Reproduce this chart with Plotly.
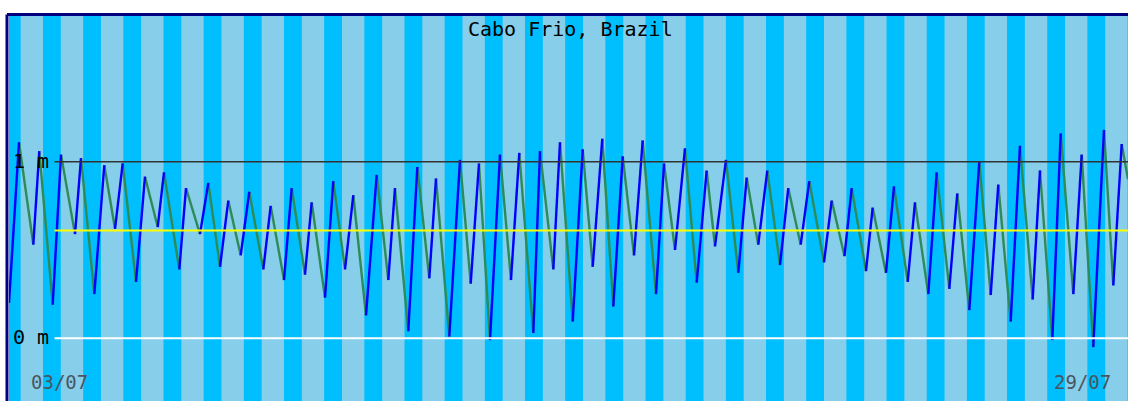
import pandas as pd
import plotly.graph_objects as go

YEAR = 2012
STATION = "Cabo Frio, Brazil"

# Predicted turning points of the tide (local time) and heights in metres
tide_times = [
    "02/07 10:19", "02/07 16:17",
    "03/07 00:50", "03/07 04:25", "03/07 12:26", "03/07 17:23",
    "04/07 01:45", "04/07 05:20", "04/07 13:17", "04/07 19:15",
    "05/07 01:39", "05/07 06:15", "05/07 14:12", "05/07 19:34",
    "06/07 03:10", "06/07 06:55", "06/07 16:04", "06/07 20:04",
    "07/07 04:26", "07/07 09:23", "07/07 16:23", "07/07 21:20",
    "08/07 04:45", "08/07 09:53", "08/07 18:15", "08/07 22:40",
    "09/07 06:37", "09/07 11:13", "09/07 19:10", "09/07 23:10",
    "10/07 07:07", "10/07 12:04", "10/07 19:04",
    "11/07 00:01", "11/07 07:37", "11/07 14:00", "11/07 20:56",
    "12/07 00:56", "12/07 08:53", "12/07 14:16", "12/07 21:26",
    "13/07 01:26", "13/07 09:23", "13/07 15:46", "13/07 22:10",
    "14/07 03:07", "14/07 09:42", "14/07 15:40", "14/07 22:14",
    "15/07 03:12", "15/07 11:34", "15/07 15:34", "15/07 23:31",
    "16/07 03:31", "16/07 11:07", "16/07 17:05", "16/07 23:04",
    "17/07 04:47", "17/07 11:22", "17/07 16:59", "17/07 23:44",
    "18/07 04:56", "18/07 12:53", "18/07 17:40",
    "19/07 00:14", "19/07 06:12", "19/07 13:11", "19/07 19:10",
    "20/07 00:08", "20/07 06:42", "20/07 14:03", "20/07 19:04",
    "21/07 01:59", "21/07 07:22", "21/07 14:58", "21/07 19:55",
    "22/07 03:20", "22/07 08:28", "22/07 17:15", "22/07 21:51",
    "23/07 05:30", "23/07 09:48", "23/07 18:20", "23/07 22:20",
    "24/07 06:17", "24/07 11:04", "24/07 19:16", "24/07 23:37",
    "25/07 07:34", "25/07 12:35", "25/07 20:07",
    "26/07 00:53", "26/07 08:04", "26/07 14:02", "26/07 20:51",
    "27/07 01:23", "27/07 08:47", "27/07 14:21", "27/07 21:56",
    "28/07 02:18", "28/07 09:39", "28/07 14:40", "28/07 22:12",
    "29/07 03:13", "29/07 10:08", "29/07 16:32", "29/07 22:05",
    "30/07 03:07", "30/07 06:53",
]
tide_heights = [
    0.20, 1.11,
    0.53, 1.06, 0.19, 1.04,
    0.59, 1.02, 0.25, 0.98,
    0.62, 0.99, 0.32, 0.915,
    0.63, 0.94, 0.39, 0.85,
    0.59, 0.88, 0.405, 0.78,
    0.47, 0.83, 0.39, 0.75,
    0.33, 0.85, 0.36, 0.77,
    0.23, 0.89, 0.39,
    0.81, 0.13, 0.925, 0.33,
    0.85, 0.04, 0.97, 0.34,
    0.905, 0.01, 1.01, 0.31,
    0.99, -0.01, 1.04, 0.33,
    1.05, 0.03, 1.06, 0.39,
    1.11, 0.095, 1.07, 0.405,
    1.13, 0.18, 1.03, 0.47,
    1.12, 0.25, 0.99,
    0.50, 1.075, 0.315, 0.95,
    0.52, 1.01, 0.37, 0.91,
    0.53, 0.95, 0.415, 0.85,
    0.53, 0.89, 0.43, 0.78,
    0.465, 0.85, 0.38, 0.74,
    0.37, 0.86, 0.32, 0.77,
    0.25, 0.94, 0.28,
    0.82, 0.16, 1.00, 0.245,
    0.87, 0.095, 1.09, 0.22,
    0.95, -0.01, 1.16, 0.25,
    1.04, -0.05, 1.18, 0.30,
    1.10, 0.90,
]

# Daylight window (local time)
sunrise = "06:37"
sunset = "17:16"

mean_level = 0.61
reference_levels = [1.0, 0.0]
level_labels = ["1 m", "0 m"]

view_start = "02/07 10:19"
view_end = "30/07 06:53"
date_labels = ["03/07", "29/07"]


def to_time(s):
    return pd.to_datetime(f"{YEAR}/{s}", format="%Y/%d/%m %H:%M")


times = [to_time(s) for s in tide_times]
x_start, x_end = to_time(view_start), to_time(view_end)

# Split the curve into flood (rising) and ebb (falling) legs
rise_x, rise_y, fall_x, fall_y = [], [], [], []
for i in range(len(times) - 1):
    seg_x = [times[i], times[i + 1], None]
    seg_y = [tide_heights[i], tide_heights[i + 1], None]
    if tide_heights[i + 1] >= tide_heights[i]:
        rise_x += seg_x
        rise_y += seg_y
    else:
        fall_x += seg_x
        fall_y += seg_y

fig = go.Figure()
fig.add_trace(go.Scatter(x=fall_x, y=fall_y, mode="lines",
                         line=dict(color="#2E8B57", width=2.4), hoverinfo="skip"))
fig.add_trace(go.Scatter(x=rise_x, y=rise_y, mode="lines",
                         line=dict(color="#0000FF", width=2.4), hoverinfo="skip"))

shapes = []
# Daylight bands
for day in pd.date_range(to_time("02/07 00:00"), to_time("30/07 00:00"), freq="D"):
    d = day.strftime("%d/%m")
    shapes.append(dict(type="rect", xref="x", yref="paper",
                       x0=to_time(f"{d} {sunrise}"), x1=to_time(f"{d} {sunset}"),
                       y0=0, y1=1, fillcolor="#00BFFF", line=dict(width=0),
                       layer="below"))

# Reference levels
line_x0 = 0.0407
shapes.append(dict(type="line", xref="paper", yref="y", x0=line_x0, x1=1,
                   y0=reference_levels[0], y1=reference_levels[0],
                   line=dict(color="#333333", width=1.5), layer="above"))
shapes.append(dict(type="line", xref="paper", yref="y", x0=line_x0, x1=1,
                   y0=mean_level, y1=mean_level,
                   line=dict(color="#FFFF00", width=2), layer="above"))
shapes.append(dict(type="line", xref="paper", yref="y", x0=line_x0, x1=1,
                   y0=reference_levels[1], y1=reference_levels[1],
                   line=dict(color="#FFFFFF", width=2), layer="above"))

# Frame edges
shapes.append(dict(type="line", xref="paper", yref="paper", x0=-0.0018, x1=1.01,
                   y0=1.004, y1=1.004, line=dict(color="#000080", width=3),
                   layer="above"))
shapes.append(dict(type="line", xref="paper", yref="paper", x0=-0.0018, x1=-0.0018,
                   y0=-0.01, y1=1.004, line=dict(color="#000080", width=3),
                   layer="above"))

mono = "DejaVu Sans Mono"
annotations = [
    dict(text=STATION, xref="paper", yref="paper", x=0.5, y=1, xanchor="center",
         yanchor="top", xshift=2, yshift=1, showarrow=False,
         font=dict(family=mono, size=20, color="#000000")),
]
for lvl, lab in zip(reference_levels, level_labels):
    annotations.append(dict(text=lab, xref="paper", yref="y", x=0.0018, y=lvl,
                            xanchor="left", yanchor="middle", showarrow=False,
                            yshift=1, font=dict(family=mono, size=20, color="#000000")))
annotations.append(dict(text=date_labels[0], xref="x", yref="y",
                        x=to_time(f"{date_labels[0]} 00:00"), y=-0.25,
                        xanchor="left", yanchor="middle", xshift=-3, showarrow=False,
                        font=dict(family=mono, size=19, color="#4a5560")))
annotations.append(dict(text=date_labels[1], xref="x", yref="y",
                        x=to_time(f"{date_labels[1]} 00:00"), y=-0.25,
                        xanchor="left", yanchor="middle", xshift=-24, showarrow=False,
                        font=dict(family=mono, size=19, color="#4a5560")))

fig.update_layout(
    width=1128, height=401,
    margin=dict(l=9, r=0, t=16, b=0),
    paper_bgcolor="#FFFFFF",
    plot_bgcolor="#87CEEB",
    showlegend=False,
    shapes=shapes,
    annotations=annotations,
    xaxis=dict(range=[x_start, x_end], visible=False, showgrid=False, zeroline=False),
    yaxis=dict(range=[-0.355, 1.825], visible=False, showgrid=False, zeroline=False),
)

fig.write_html("out.html")
